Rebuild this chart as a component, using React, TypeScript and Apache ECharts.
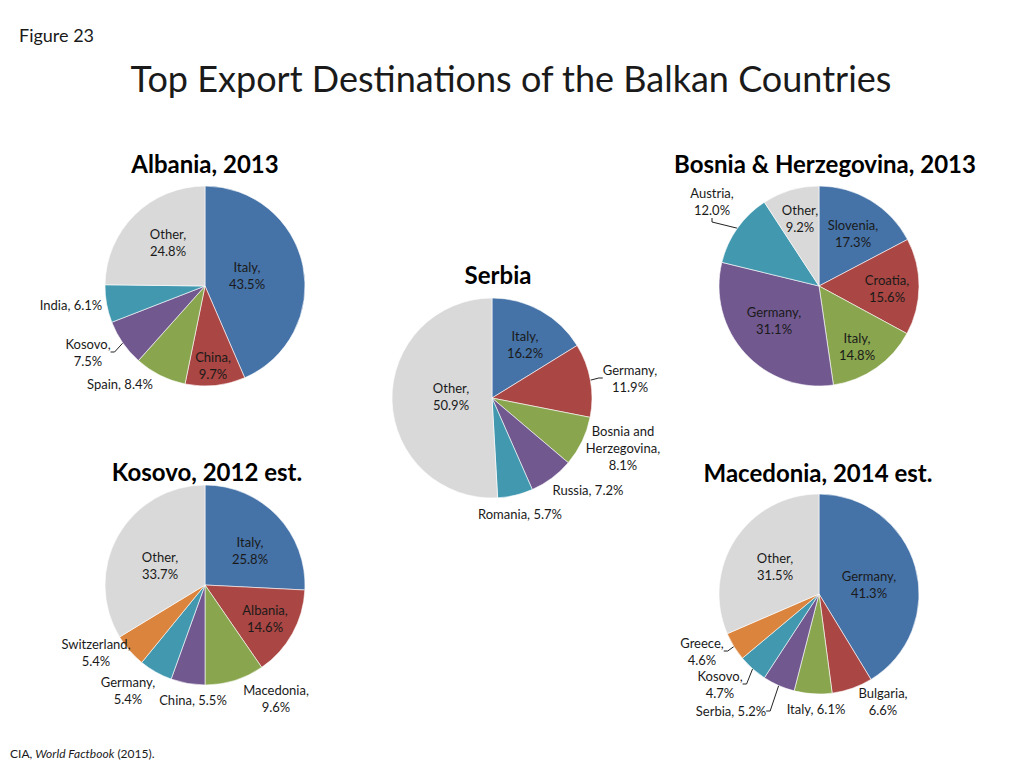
import React, { useEffect, useRef } from "react";
import * as echarts from "echarts";

// ---- Data ----
const albaniaNames = ["Italy", "China", "Spain", "Kosovo", "India", "Other"];
const albaniaValues = [43.5, 9.7, 8.4, 7.5, 6.1, 24.8];

const bosniaNames = ["Slovenia", "Croatia", "Italy", "Germany", "Austria", "Other"];
const bosniaValues = [17.3, 15.6, 14.8, 31.1, 12.0, 9.2];

const serbiaNames = ["Italy", "Germany", "Bosnia and Herzegovina", "Russia", "Romania", "Other"];
const serbiaValues = [16.2, 11.9, 8.1, 7.2, 5.7, 50.9];

const kosovoNames = ["Italy", "Albania", "Macedonia", "China", "Germany", "Switzerland", "Other"];
const kosovoValues = [25.8, 14.6, 9.6, 5.5, 5.4, 5.4, 33.7];

const macedoniaNames = ["Germany", "Bulgaria", "Italy", "Serbia", "Kosovo", "Greece", "Other"];
const macedoniaValues = [41.3, 6.6, 6.1, 5.2, 4.7, 4.6, 31.5];

const chartTitles = ["Albania, 2013", "Bosnia & Herzegovina, 2013", "Serbia", "Kosovo, 2012 est.", "Macedonia, 2014 est."];

// ---- Styles / layout ----
const palette = ["#4572A7", "#AA4643", "#89A54E", "#71588F", "#4198AF", "#DB843D"];
const otherColor = "#D9D9D9";
const FONT = "Lato, 'Open Sans', sans-serif";
const TEXT = "#1a1a1a";
const RADIUS = 100;

type LabelCfg = [number, number, number, boolean?]; // dx, dy, lines(1|2|3), labelLine

const pies: { names: string[]; values: number[]; center: [number, number]; title: [number, number]; labels: LabelCfg[] }[] = [
  {
    names: albaniaNames, values: albaniaValues, center: [205, 286], title: [205, 163],
    labels: [[42, -11, 2], [8, 79, 2], [-85, 98, 1], [-117, 66, 2, true], [-134, 19, 1], [-37, -44, 2]],
  },
  {
    names: bosniaNames, values: bosniaValues, center: [819, 286], title: [825, 163],
    labels: [[34, -53, 2], [68, 2, 2], [38, 60, 2], [-45, 34, 2], [-107, -85, 2, true], [-19, -68, 2]],
  },
  {
    names: serbiaNames, values: serbiaValues, center: [492, 398], title: [498, 274],
    labels: [[33, -54, 2], [138, -20, 2, true], [131, 50, 3], [96, 92, 1], [28, 116, 1], [-41, -2, 2]],
  },
  {
    names: kosovoNames, values: kosovoValues, center: [205, 585], title: [207, 471],
    labels: [[45, -35, 2], [60, 33, 2], [71, 113, 2], [-12, 115, 1], [-77, 105, 2], [-109, 67, 2], [-45, -20, 2]],
  },
  {
    names: macedoniaNames, values: macedoniaValues, center: [819, 594], title: [818, 472],
    labels: [[50, -10, 2], [64, 107, 2], [-3, 115, 1], [-88, 117, 1, true], [-99, 90, 2, true], [-117, 57, 2, true], [-44, -28, 2]],
  },
];

function labelText(name: string, value: number, lines: number): string {
  const v = value.toFixed(1) + "%";
  if (lines === 1) return `${name}, ${v}`;
  if (lines === 3) return `${name.replace(" and ", " and\n")},\n${v}`;
  return `${name},\n${v}`;
}

export default function App() {
  const ref = useRef<HTMLDivElement>(null);

  useEffect(() => {
    if (!ref.current) return;
    const chart = echarts.init(ref.current, null, { renderer: "svg" });

    const series = pies.map((p) => ({
      type: "pie",
      center: p.center,
      radius: RADIUS,
      startAngle: 90,
      clockwise: true,
      avoidLabelOverlap: false,
      silent: true,
      itemStyle: { borderColor: "#ffffff", borderWidth: 0.6 },
      labelLine: { show: false, length: 4, length2: 4, smooth: false, lineStyle: { color: "#222", width: 1 } },
      labelLayout: (params: any) => {
        const cfg = pies[params.seriesIndex].labels[params.dataIndex];
        const c = pies[params.seriesIndex].center;
        return { x: c[0] + cfg[0], y: c[1] + cfg[1], align: "center", verticalAlign: "middle" };
      },
      data: p.names.map((n, i) => {
        const cfg = p.labels[i];
        const hasLine = !!cfg[3];
        return {
          name: n,
          value: p.values[i],
          itemStyle: { color: n === "Other" ? otherColor : palette[i % palette.length] },
          label: {
            show: true,
            position: hasLine ? "outside" : "inside",
            formatter: labelText(n, p.values[i], cfg[2]),
            fontFamily: FONT,
            fontSize: 13,
            lineHeight: 17,
            color: TEXT,
            align: "center",
          },
          labelLine: { show: hasLine, length: 4, length2: 4 },
        };
      }),
    }));

    const graphics: any[] = [
      {
        type: "text", x: 19, y: 35,
        style: { text: "Figure 23", font: `18px ${FONT}`, fill: TEXT, textVerticalAlign: "middle" },
      },
      {
        type: "text", x: 511, y: 78,
        style: {
          text: "Top Export Destinations of the Balkan Countries", font: `36px ${FONT}`, fill: TEXT,
          textAlign: "center", textVerticalAlign: "middle",
        },
      },
      {
        type: "text", x: 10, y: 753,
        style: {
          text: "{a|CIA, }{i|World Factbook}{a| (2015).}",
          textVerticalAlign: "middle",
          rich: {
            a: { fontFamily: FONT, fontSize: 12, fill: TEXT },
            i: { fontFamily: FONT, fontSize: 12, fontStyle: "italic", fill: TEXT },
          },
        },
      },
      ...pies.map((p, i) => ({
        type: "text", x: p.title[0], y: p.title[1],
        style: {
          text: chartTitles[i], font: `bold 24px ${FONT}`, fill: "#000",
          textAlign: "center", textVerticalAlign: "middle",
        },
      })),
    ];

    chart.setOption({
      animation: false,
      backgroundColor: "#ffffff",
      graphic: graphics,
      series,
    });

    return () => chart.dispose();
  }, []);

  return (
    <div
      ref={ref}
      style={{ position: "fixed", left: 0, top: 0, width: 1024, height: 768, background: "#fff" }}
    />
  );
}
